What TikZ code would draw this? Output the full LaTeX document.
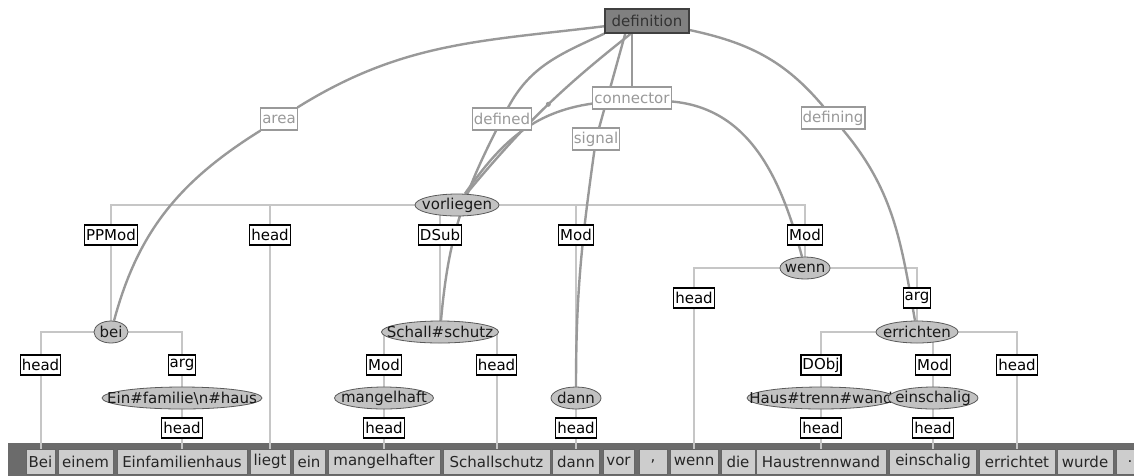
\documentclass[tikz,border=0pt]{standalone}
\usepackage{fontspec}
\setmainfont{DejaVu Sans}
\usetikzlibrary{shapes.geometric}
\definecolor{fecol}{HTML}{999999}
\definecolor{treecol}{HTML}{C6C6C6}
\definecolor{nodefill}{HTML}{C2C2C2}
\definecolor{barcol}{HTML}{6B6B6B}
\definecolor{tokfill}{HTML}{CDCDCD}
\definecolor{framefill}{HTML}{808080}
\pgfdeclarelayer{bar}
\pgfdeclarelayer{lines}
\pgfsetlayers{bar,lines,main}

\begin{document}
\begin{tikzpicture}[x=1pt, y=-1pt,
  every node/.style={font=\fontsize{15}{17}\selectfont},
  synnode/.style={ellipse, draw=black!65, fill=nodefill, text=black!90, inner sep=0pt,
    inner xsep=-60pt, minimum height=22pt, minimum width=#1, line width=0.8pt},
  rolebox/.style={draw=black, fill=white, text=black, inner sep=1.5pt, minimum height=20pt, line width=1.1pt},
  febox/.style={draw=fecol, fill=white, text=fecol, inner sep=1.5pt, minimum height=22pt, line width=1.1pt},
  framebox/.style={draw=black!75, fill=framefill, text=black!80, minimum width=84pt, minimum height=24pt, line width=1.1pt},
  token/.style={draw=black!60, fill=tokfill, text=black!85, inner sep=0pt, minimum height=25pt, minimum width=#1, line width=0.9pt},
  treeline/.style={treecol, line width=2pt},
  feline/.style={fecol, line width=2.4pt}]
  \useasboundingbox (0,0) rectangle (1134,475);

  % frame
  \node[framebox] (definition) at (647,21) {definition};

  % frame elements
  \node[febox] (area) at (279,119) {area};
  \node[febox] (defined) at (502,119) {defined};
  \node[febox] (connector) at (632,98) {connector};
  \node[febox] (signal) at (596,139) {signal};
  \node[febox] (defining) at (833,118) {defining};

  % syntax nodes
  \node[synnode=84] (vorliegen) at (457,205) {vorliegen};
  \node[synnode=34] (bei) at (111,332) {bei};
  \node[synnode=160] (einfam) at (182,398) {Ein\#familie\textbackslash n\#haus};
  \node[synnode=117] (schall) at (440,332) {Schall\#schutz};
  \node[synnode=99] (mangel) at (384,398) {mangelhaft};
  \node[synnode=50] (dann) at (576,398) {dann};
  \node[synnode=50] (wenn) at (805,268) {wenn};
  \node[synnode=82] (errichten) at (917,332) {errichten};
  \node[synnode=148] (haus) at (821,398) {Haus\#trenn\#wand};
  \node[synnode=90] (einsch) at (933,398) {einschalig};

  % edge labels
  \node[rolebox] (ppmod) at (111,235) {PPMod};
  \node[rolebox] (hliegt) at (270,235) {head};
  \node[rolebox] (dsub) at (440,235) {DSub};
  \node[rolebox] (moddann) at (576,235) {Mod};
  \node[rolebox] (modwenn) at (805,235) {Mod};
  \node[rolebox] (hwenn) at (694,298) {head};
  \node[rolebox] (argwenn) at (917,298) {arg};
  \node[rolebox] (hbei) at (40.5,365) {head};
  \node[rolebox] (argbei) at (182,365) {arg};
  \node[rolebox] (modschall) at (384,365) {Mod};
  \node[rolebox] (hschall) at (496.5,365) {head};
  \node[rolebox] (dobj) at (821,365) {DObj};
  \node[rolebox] (moderr) at (933,365) {Mod};
  \node[rolebox] (herr) at (1017,365) {head};
  \node[rolebox] (hein) at (182,428) {head};
  \node[rolebox] (hmangel) at (384,428) {head};
  \node[rolebox] (hdann) at (576,428) {head};
  \node[rolebox] (hhaus) at (821,428) {head};
  \node[rolebox] (heinsch) at (933,428) {head};

  % tokens
  \node[token=29] (t1) at (40.5,461.5) {Bei};
  \node[token=55] (t2) at (85.5,461.5) {einem};
  \node[token=130] (t3) at (182,461.5) {Einfamilienhaus};
  \node[token=40] (t4) at (270,461.5) {liegt};
  \node[token=32] (t5) at (309,461.5) {ein};
  \node[token=112] (t6) at (384,461.5) {mangelhafter};
  \node[token=107] (t7) at (496.5,461.5) {Schallschutz};
  \node[token=47] (t8) at (576,461.5) {dann};
  \node[token=31] (t9) at (618.5,461.5) {vor};
  \node[token=28] (t10) at (653,461.5) {,};
  \node[token=48] (t11) at (694,461.5) {wenn};
  \node[token=34] (t12) at (738,461.5) {die};
  \node[token=130] (t13) at (821,461.5) {Haustrennwand};
  \node[token=87] (t14) at (933,461.5) {einschalig};
  \node[token=76] (t15) at (1017,461.5) {errichtet};
  \node[token=56] (t16) at (1085,461.5) {wurde};
  \node[token=28] (t17) at (1130,461.5) {.};

  % token bar
  \begin{pgfonlayer}{bar}
    \fill[barcol] (8,443) rectangle (1140,480);
  \end{pgfonlayer}

  \begin{pgfonlayer}{lines}
    % tree
    \draw[treeline] (vorliegen) -| (ppmod) (vorliegen) -| (hliegt) (vorliegen) -| (dsub)
      (vorliegen) -| (moddann) (vorliegen) -| (modwenn);
    \draw[treeline] (ppmod) -- (bei) (hliegt) -- (t4) (dsub) -- (schall)
      (moddann) -- (dann) (modwenn) -- (wenn);
    \draw[treeline] (wenn) -| (hwenn) (wenn) -| (argwenn) (hwenn) -- (t11) (argwenn) -- (errichten);
    \draw[treeline] (bei) -| (hbei) (bei) -| (argbei) (hbei) -- (t1)
      (argbei) -- (einfam) -- (hein) -- (t3);
    \draw[treeline] (schall) -| (modschall) (schall) -| (hschall)
      (modschall) -- (mangel) -- (hmangel) -- (t6) (hschall) -- (t7);
    \draw[treeline] (dann) -- (hdann) -- (t8);
    \draw[treeline] (errichten) -| (dobj) (errichten) -| (moderr) (errichten) -| (herr)
      (dobj) -- (haus) -- (hhaus) -- (t13) (moderr) -- (einsch) -- (heinsch) -- (t14) (herr) -- (t15);

    % frame edges
    \draw[feline] (definition) to[out=187,in=32] (area);
    \draw[feline] (area) to[out=212,in=75] (bei);
    \draw[feline] (definition.south west) to[out=205,in=62] (defined);
    \draw[feline] (defined) to[out=243,in=85] (schall);
    \draw[feline] (definition) to[bend right=6] coordinate[pos=.47] (knot) (vorliegen);
    \fill[fecol] (knot) circle (2.5);
    \draw[feline] (connector.north) -- (connector.north |- definition.south);
    \draw[feline] (connector) to[out=188,in=55] (vorliegen);
    \draw[feline] (connector) to[out=-5,in=105] (wenn);
    \draw[feline] (definition.210) -- (signal);
    \draw[feline] (signal) to[out=262,in=90] (dann);
    \draw[feline] (definition) to[out=-12,in=130] (defining);
    \draw[feline] (defining) to[out=-50,in=100] (errichten);
  \end{pgfonlayer}
\end{tikzpicture}
\end{document}
